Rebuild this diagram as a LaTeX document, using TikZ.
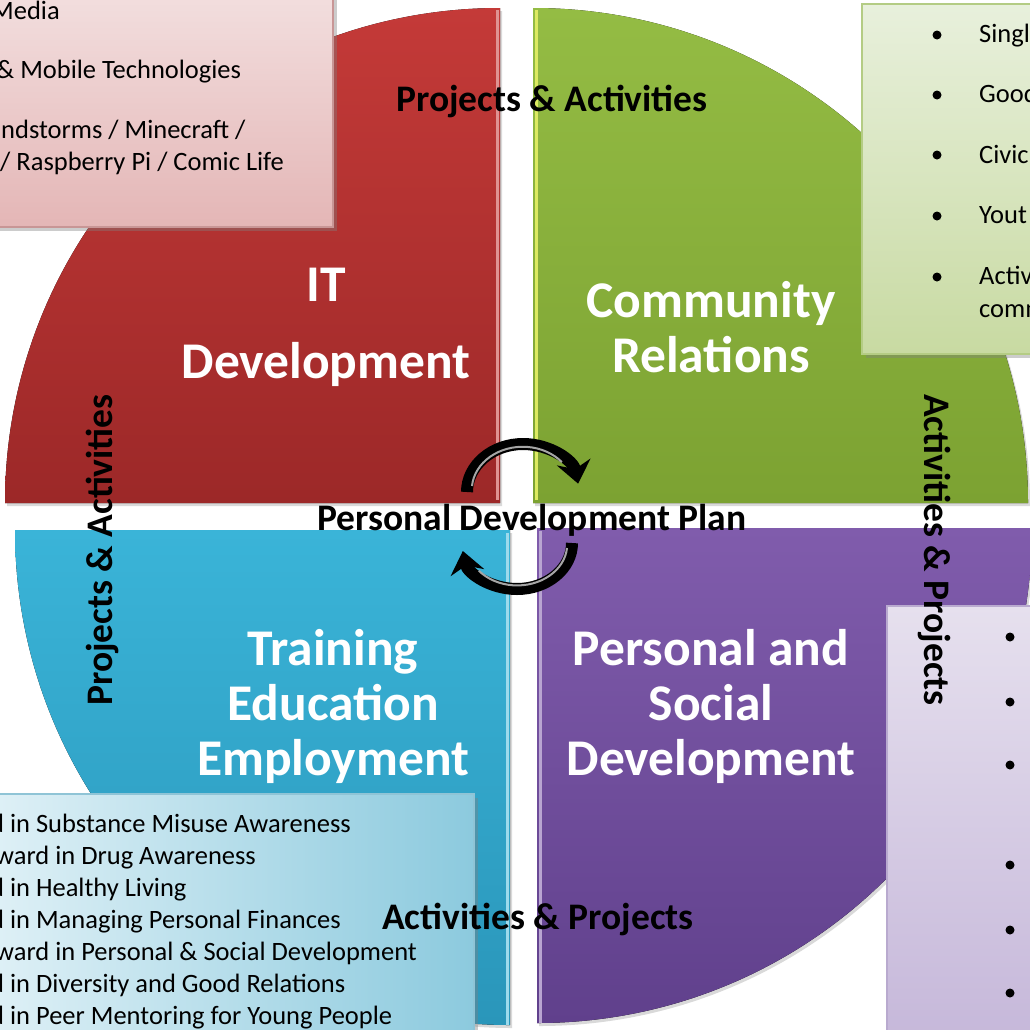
\documentclass[tikz,border=0pt]{standalone}
\usepackage{fontspec}
\setmainfont{Carlito}
\usepackage{tikz}
\usetikzlibrary{arrows.meta,positioning,shadows}

\definecolor{ittop}{RGB}{196,58,56}
\definecolor{itbot}{RGB}{156,40,40}
\definecolor{crtop}{RGB}{148,188,68}
\definecolor{crbot}{RGB}{124,162,50}
\definecolor{tetop}{RGB}{58,180,216}
\definecolor{tebot}{RGB}{42,150,186}
\definecolor{pstop}{RGB}{128,92,172}
\definecolor{psbot}{RGB}{96,64,140}
\definecolor{itbox}{RGB}{242,222,222}
\definecolor{itboxdark}{RGB}{228,182,182}
\definecolor{crbox}{RGB}{232,240,220}
\definecolor{crboxdark}{RGB}{200,218,162}
\definecolor{tebox}{RGB}{222,240,246}
\definecolor{teboxdark}{RGB}{140,202,222}
\definecolor{psbox}{RGB}{230,224,238}
\definecolor{psboxdark}{RGB}{198,184,218}

\begin{document}
\begin{tikzpicture}[x=1pt,y=-1pt,
  quadshape/.style={drop shadow={shadow xshift=2pt,shadow yshift=-3pt,opacity=0.3}},
  quadtitle/.style={text=white,font=\fontsize{51.5}{55}\selectfont\bfseries,align=center,inner sep=0pt},
  heading/.style={font=\fontsize{37.5}{42}\selectfont\bfseries,inner sep=0pt},
  infobox/.style={line width=2pt,inner sep=0pt,anchor=north west,drop shadow={shadow xshift=4pt,shadow yshift=-4pt,opacity=0.4}},
  item/.style={font=\fontsize{26.5}{31}\selectfont,anchor=base west,inner sep=0pt},
  dot/.style={circle,fill=black,inner sep=0pt,minimum size=9pt},
  cyclearrow/.style={line width=12pt,-{Stealth[length=22pt,width=34pt]}}]

	\useasboundingbox (0,0) rectangle (1030,1029);

	\fill[quadshape,top color=ittop,bottom color=itbot] (500,503) -- (5,503) arc[start angle=180,end angle=270,radius=495] -- cycle;
	\fill[quadshape,top color=crtop,bottom color=crbot] (533,503) -- (533,8) arc[start angle=270,end angle=360,radius=495] -- cycle;
	\fill[quadshape,top color=tetop,bottom color=tebot] (510,530) -- (15,530) arc[start angle=180,end angle=90,radius=495] -- cycle;
	\fill[quadshape,top color=pstop,bottom color=psbot] (537,528) -- (1032,528) arc[start angle=0,end angle=90,radius=495] -- cycle;

	\draw[line width=3pt,ittop!55!white] (497,10) -- (497,500);
	\draw[line width=3pt,crtop!45!yellow!70!white] (536,10) -- (536,500);
	\draw[line width=3pt,tetop!50!white] (507,533) -- (507,1025);
	\draw[line width=3pt,pstop!55!white] (540,531) -- (540,1023);

	\node[quadtitle] (it) at (326,327) {IT\\[22pt]Development};
	\node[quadtitle] (cr) at (711,327) {Community\\Relations};
	\node[quadtitle] (te) at (333,706) {Training\\Education\\Employment};
	\node[quadtitle] (ps) at (711,706) {Personal and\\Social\\Development};

	\node[infobox,draw={rgb,255:red,200;green,150;blue,150},top color=itbox,bottom color=itboxdark,minimum width=337pt,minimum height=231pt] (itbox) at (-5,-5) {};
	\node[infobox,draw={rgb,255:red,180;green,204;blue,132},top color=crbox,bottom color=crboxdark,minimum width=180pt,minimum height=350pt] (crbox) at (861,3) {};
	\node[infobox,draw={rgb,255:red,143;green,196;blue,214},left color=tebox,right color=teboxdark,minimum width=478pt,minimum height=245pt] (tebox) at (-5,793) {};
	\node[infobox,draw={rgb,255:red,185;green,170;blue,207},top color=psbox,bottom color=psboxdark,minimum width=155pt,minimum height=430pt] (psbox) at (886,605) {};

	\node[item] (it1) at (-9,19) {Media};
	\node[item] (it2) at (-4,78) {\& Mobile Technologies};
	\node[item] (it3) at (1,138) {ndstorms / Minecraft /};
	\node[item] (it4) at (0,170) {/ Raspberry Pi / Comic Life};

	\node[dot] (crd1) at (937,35) {};
	\node[dot] (crd2) at (937,95) {};
	\node[dot] (crd3) at (937,155) {};
	\node[dot] (crd4) at (937,216) {};
	\node[dot] (crd5) at (937,277) {};
	\node[item] (cr1) at (979,42) {Singl};
	\node[item] (cr2) at (979,102) {Good};
	\node[item] (cr3) at (979,163) {Civic};
	\node[item] (cr4) at (979,223) {Yout};
	\node[item] (cr5) at (979,284) {Activ};
	\node[item] (cr6) at (979,317) {comm};

	\node[item] (te1) at (-10,832) {d in Substance Misuse Awareness};
	\node[item] (te2) at (-5,864) {ward in Drug Awareness};
	\node[item] (te3) at (-10,896) {d in Healthy Living};
	\node[item] (te4) at (-10,928) {d in Managing Personal Finances};
	\node[item] (te5) at (-5,960) {ward in Personal \& Social Development};
	\node[item] (te6) at (-10,992) {d in Diversity and Good Relations};
	\node[item] (te7) at (-10,1024) {d in Peer Mentoring for Young People};

	\node[dot] (psd1) at (1010,637) {};
	\node[dot] (psd2) at (1010,702) {};
	\node[dot] (psd3) at (1010,765) {};
	\node[dot] (psd4) at (1010,865) {};
	\node[dot] (psd5) at (1010,930) {};
	\node[dot] (psd6) at (1010,993) {};

	\node[heading] (toplbl) at (552,101) {Projects \& Activities};
	\node[heading,rotate=90] (leftlbl) at (102,550) {Projects \& Activities};
	\node[heading,rotate=-90] (rightlbl) at (935,550) {Activities \& Projects};
	\node[heading] (botlbl) at (538,919) {Activities \& Projects};

	\coordinate (cyctop) at (467,492);
	\coordinate (cycbot) at (572,543);
	\draw[cyclearrow] (cyctop) arc[start angle=180,end angle=350,x radius=56,y radius=48];
	\draw[line width=2pt,gray!70] (472,486) arc[start angle=185,end angle=320,x radius=51,y radius=43];
	\draw[cyclearrow] (cycbot) arc[start angle=0,end angle=170,x radius=55,y radius=46];
	\draw[line width=2pt,gray!70] (567,548) arc[start angle=5,end angle=140,x radius=50,y radius=41];

	\node[heading] (pdp) at (532,520) {Personal Development Plan};
\end{tikzpicture}
\end{document}
